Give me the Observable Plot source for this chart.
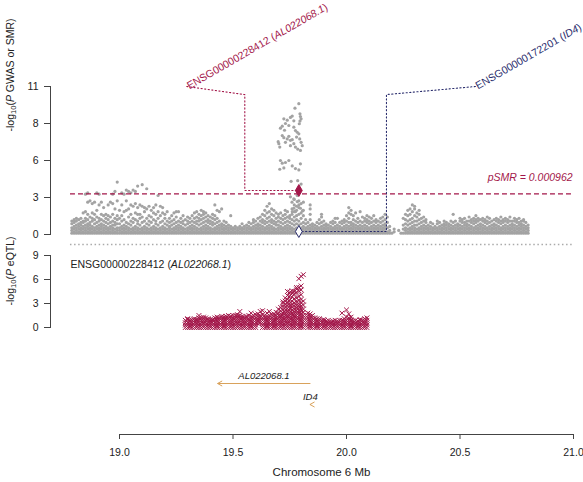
<!DOCTYPE html>
<html><head><meta charset="utf-8">
<script src="https://cdn.jsdelivr.net/npm/d3@7"></script>
<script src="https://cdn.jsdelivr.net/npm/@observablehq/plot@0.6"></script>
<style>
html,body{margin:0;padding:0;background:#fff}
#chart{position:relative;width:583px;height:482px;overflow:hidden;font-family:"Liberation Sans",Arial,Helvetica,sans-serif}
#chart svg{position:absolute;left:0}
</style></head><body><div id="chart"></div>
<script>
// ---------------- data ----------------
const xTicksMb = [19.0, 19.5, 20.0, 20.5, 21.0];
const plotSpanMb = [18.784, 20.996];
const gwasTicks = [0, 2.75, 5.5, 8.25, 11];
const gwasTickLabels = ["0", "3", "6", "8", "11"];
const eqtlTicks = [0, 3, 6, 9];
const eqtlTickLabels = ["0", "3", "6", "9"];
const smrThresholdP = 3.02;
const smrThresholdText = "pSMR = 0.000962";

const probeIds = ["ENSG00000228412", "ENSG00000172201"];
const probeGenes = ["AL022068.1", "ID4"];
const probeMb = [19.79, 19.79];
const probeSmrP = [3.27, 0.22];
const probeLabelMb = [19.296, 20.568];
const probeElbowMb = [19.552, 20.176];
const probeLabelP = 11.0;
const probeElbowP = 10.4;

const geneNames = ["AL022068.1", "ID4"];
const geneStartMb = [19.432, 19.839];
const geneEndMb = [19.841, 19.842];

const chromosomeLabel = "Chromosome 6 Mb";
const gwasAxisTitle = "-log10(P GWAS or SMR)";
const eqtlAxisTitle = "-log10(P eQTL)";

// GWAS -log10(P): one bin per 0.01 Mb starting at 18.79, values separated by spaces
const gwasStartMb = 18.79;
const binMb = 0.01;
const gwasBins = [
".1 .3 .5 .8 1.0",
".1 .2 .4 .6 .9 1.1|.1 .3 .5 .7 1.0 1.2|.1 .2 .4 .6 .8 1.1|.1 .3 .5 .7 .9 1.2|.1 .2 .4 .6 .9 1.0 1.6|.1 .3 .5 .7 1.0 1.2 1.7 3.0|.1 .2 .4 .6 .8 1.1 1.5 2.4 3.1|.1 .3 .5 .7 .9 1.3 2.5|.1 .2 .4 .6 1.0 1.2 1.6 2.3|.1 .3 .5 .8 1.1 1.5 2.4",
".1 .2 .4 .6 .9 1.3 1.8 3.1|.1 .3 .5 .7 1.0 1.2 2.2 3.0|.1 .2 .4 .6 .8 1.1 1.5 2.4|.1 .3 .5 .7 1.0 1.4 2.0|.1 .2 .4 .6 .9 1.2 1.5|.1 .3 .5 .8 1.1 1.4 2.2|.1 .2 .4 .6 .9 1.3 2.4|.1 .3 .5 .7 1.0 1.5 2.3 3.0|.1 .2 .4 .7 .9 1.2 1.9 3.2|.1 .3 .5 .8 1.1 1.4 2.5 3.9",
".1 .3 .5 .8 1.2 1.8|.1 .2 .4 .6 1.0 1.4 2.2 3.1|.1 .3 .5 .7 1.1 1.7 3.0|.1 .2 .4 .6 .9 1.8 2.5 3.3|.1 .3 .5 .8 1.3 1.9 3.2|.1 .2 .4 .7 1.0 1.5 2.2 3.1|.1 .3 .5 .9 1.2 2.1 3.3|.1 .2 .4 .6 1.1 1.6 2.3 3.2|.1 .3 .5 .8 1.0 1.5 2.0 3.6|.1 .2 .4 .7 1.2 1.5 2.2",
".1 .3 .5 .9 1.3 2.1 3.7|.1 .2 .4 .6 1.0 1.7 2.0|.1 .3 .5 .8 1.2 1.9 3.4|.1 .2 .4 .7 1.0 1.4 2.1|.1 .3 .5 .9 1.3 1.8|.1 .2 .4 .6 1.1 1.6 2.0|.1 .3 .5 .8 1.0 1.5 2.2|.1 .2 .4 .7 1.2 1.7 2.9|.1 .3 .5 .9 1.4 2.1|.1 .2 .4 .6 1.0 1.6 2.0",
".1 .3 .5 .8 1.2 1.5|.1 .2 .4 .7 1.0 1.7|.1 .3 .5 .6 .9 1.2|.1 .2 .4 .7 1.0 1.4|.1 .3 .5 .8 1.1 1.6|.1 .2 .4 .6 .9 1.3 1.7|.1 .3 .5 .7 1.0 1.7|.1 .2 .4 .6 .9 1.2|.1 .3 .5 .8 1.0 1.4|.1 .2 .4 .7 1.1",
".1 .3 .5 .8 1.0 1.3|.1 .2 .4 .6 .9 1.2|.1 .3 .5 .7 1.0 1.4|.1 .2 .4 .6 .9 1.2 1.6|.1 .3 .5 .8 1.0 1.3 1.7|.1 .2 .4 .7 1.0 1.2 1.5|.1 .3 .5 .8 1.1 1.4 1.8|.1 .2 .4 .6 .9 1.2 1.5 1.7|.1 .3 .5 .7 1.0 1.3 1.6|.1 .2 .4 .6 .9 1.1 1.4",
".1 .3 .5 .8 1.0 1.3|.1 .2 .4 .7 .9 1.2 1.5|.1 .3 .5 .8 1.1 1.4 2.2|.1 .2 .4 .6 .9 1.2 1.8|.1 .3 .5 .7 1.0 1.7|.1 .2 .4 .6 .8 1.9|.1 .3 .5 .7 1.0|.1 .2 .4 .6 .9|.1 .3 .5 .7|.1 .2 .4 .6 1.4",
".1 .3 .5|.1 .2 .4 .6|.1 .3 .5|.1 .2 .4 .6|.1 .3 .5 .8|.1 .2 .4 .6|.1 .3 .5 .7|.1 .2 .4 .6 .9|.1 .3 .5 .8|.1 .2 .4 .6 .9 1.1",
".1 .3 .5 .7 1.0|.1 .2 .4 .6 .8 1.2|.1 .3 .5 .7 1.0 1.3|.1 .2 .4 .6 .9 1.1 1.5|.1 .3 .5 .8 1.0 1.4 1.8|.1 .2 .4 .6 .9 1.2 1.6 2.1|.1 .3 .5 .7 1.0 1.3 1.7 2.3|.1 .2 .4 .6 .9 1.1 1.5 1.9|.1 .3 .5 .8 1.0 1.4 1.8|.1 .2 .4 .7 .9 1.2 1.6",
".1 .3 .5 .7 1.0 1.3 1.5|.1 .2 .4 .6 .9 1.2 1.6|.1 .3 .5 .8 1.1 1.4|.1 .2 .4 .6 .9 1.2 1.5 1.8|.1 .3 .5 .7 1.0 1.3 1.7|.1 .2 .4 .6 .9 1.2 1.4|.1 .3 .5 .8 1.1 1.5 1.9 2.4|.1 .2 .4 .7 1.0 1.3 1.7 2.2 2.6|.1 .3 .5 .8 1.1 1.4 1.8 2.1|.1 .2 .4 .7 1.0 1.5 2.0 2.5",
".1 .3 .5 .8 1.2 1.6 2.3|.1 .2 .4 .6 .9 1.4 1.8 2.4|.1 .3 .5 .8 1.1|.1 .2 .4 .6 .9|.1 .3 .5 .7 1.1 1.5 1.9 2.2|.1 .2 .4 .6 .8|.1 .3 .5 .7|.1 .2 .4 .6 .9|.1 .3 .5 .8 1.1|.1 .2 .4 .6 .9 1.3 1.5",
".1 .3 .5 .7 1.0|.1 .2 .4 .6 .8|.1 .3 .5 .7|.1 .2 .4 .6 .9|.1 .3 .5 .8 1.0|.1 .2 .4 .6 .9 1.2|.1 .3 .5 .7 1.2|.1 .2 .4 .6 .9|.1 .3 .5 .8 1.0|.1 .2 .4 .6 .9 1.1",
".1 .3 .5 .7 1.0 1.4|.1 .2 .4 .6 .9 1.2 1.6 2.0|.1 .3 .5 .7 .9 1.5 1.8|.1 .2 .4 .6 .8 1.1 1.4|.1 .3 .5 .7 1.0 1.6|.1 .2 .4 .6 .9 1.2|.1 .3 .5 .7 1.0 1.7|.1 .2 .4 .6 .9 1.3|.1 .3 .5 .7 1.0 1.2|.1 .2 .4 .6 .9 1.1 1.4",
".1 .3 .5 .8 1.0 1.3|.1 .2 .4 .6 .9 1.2|.1 .3 .5 .7 1.0 1.4|.1 .2 .4 .6 .9 1.1|.1 .3 .5 .7 1.0|.1 .2 .4 .6 .9 1.2|.1 .3 .5 .7 1.0 1.3|.1 .2 .4 .6 .8 1.1 1.5|.1 .2 .5 .9 1.3|.1 .3 .6",
".1|.2 .4||.3|.1|.1 .4 .7 1.2|.1 .3 .5 .8 1.1 1.5|.1 .2 .4 .7 1.0 1.4 1.8|.1 .3 .5 .8 1.1 1.5 1.9|.1 .2 .4 .6 .9 1.2 1.7 2.2",
".1 .3 .5 .7 1.0 1.4 1.9 2.1|.1 .2 .4 .7 1.0 1.3 1.6|.1 .3 .5 .8 1.1 1.5 1.8|.1 .2 .4 .6 .9 1.2|.1 .3 .5 .7 1.0 1.3|.1 .2 .4 .6 .9 1.1|.1 .3 .5 .7|.1 .2 .4 .6 .9|.1 .3 .5 .8|.1 .2 .4 .6",
".1 .3 .5 .8 1.0|.1 .2 .4 .6 .9|.1 .3 .5 .7|.1 .2 .4 .6 .8 1.0|.1 .3 .5 .7 .9|.1 .2 .4 .6 .8|.1 .3 .5 .7 1.0|.1 .2 .4 .6 .9 1.5|.1 .3 .5 .7 1.0|.1 .2 .4 .6 .8",
".1 .3 .5 .7 1.0 1.2|.1 .2 .4 .6 .9 1.1|.1 .3 .5 .7 .9 1.2|.1 .2 .4 .6 .8 1.0|.1 .3 .5 .7 1.0 1.3|.1 .2 .4 .6 .9 1.1|.1 .3 .5 .8 1.0 1.2|.1 .2 .4 .6 .9 1.1 1.4|.1 .3 .5 .7 1.0 1.2|.1 .2 .4 .6 .8 1.1",
".1 .3 .5 .7 1.0 1.2|.1 .2 .4 .6 .9 1.1|.1 .3 .5 .8 1.0 1.3|.1 .2 .4 .6 .9 1.2|.1 .3 .5 .7 1.0|.1 .2 .4 .6 .8 1.1|.1 .3 .5 .7 1.0 1.2|.1 .2 .4 .6 .9 1.1|.1 .3 .5 .8 1.0 1.3|.1 .2 .4 .6 .9 1.1",
".1 .3 .5 .7 1.0 1.2|.1 .2 .4 .6 .9 1.1|.1 .3 .5 .7 1.0 1.3|.1 .2 .4 .6 .8 1.0|.1 .3 .5 .7 1.0 1.2|.1 .2 .4 .6 .9 1.1|.1 .3 .5 .7 .9 1.2|.1 .2 .4 .6 .8 1.0|.1 .3 .5 .7 1.0 1.1|.1 .2 .4 .6 .9|.1 .3 .5 .7"
].join("|");

// GWAS peak SNPs (Mb, -log10 P)
const gwasPeakMb = [19.790,19.773,19.795,19.797,19.800,19.795,19.792,19.724,19.739,19.753,19.761,19.768,19.731,19.717,19.746,19.709,19.727,19.768,19.775,19.783,19.790,19.780,19.794,19.800,19.805,19.717,19.724,19.739,19.746,19.753,19.761,19.731,19.768,19.775,19.785,19.797,19.753,19.702,19.706,19.699,19.709,19.717,19.731,19.746,19.761,19.775,19.790,19.797,19.724,19.706,19.756,19.785,19.800,19.753,19.768,19.783,19.790,19.797,19.806,19.768,19.775,19.761,19.783];
const gwasPeakP  = [9.72,9.39,8.97,8.77,8.60,8.43,8.23,8.6,8.5,8.7,8.8,8.45,8.25,8.05,8.1,7.9,7.75,7.98,7.73,7.6,7.48,7.24,7.1,6.85,6.6,7.35,7.2,7.1,7.3,7.0,7.05,6.85,6.75,6.5,6.35,6.25,6.6,6.75,6.5,6.9,5.5,5.3,5.35,5.5,5.1,4.9,4.8,5.25,4.95,4.85,3.95,4.0,3.75,2.8,2.65,2.45,2.2,1.95,1.75,1.95,1.7,1.7,2.9];

// eQTL -log10(P) for ENSG00000228412: one bin per 0.01 Mb starting at 19.29
const eqtlStartMb = 19.29;
const eqtlBins = [
"0 .3 .6 .9|0 .3 .6 1.0 1.1|0 .2 .5 .8 1.0|0 .3 .6 .9|0 .3 .6 .9 1.1|0 .2 .5 .8 1.0|0 .3 .6 .9 1.2 1.5|0 .3 .6 .9 1.2|0 .2 .5 .8 1.1 1.3|0 .3 .6 .9 1.2|0 .3 .6 .9 1.1",
"0 .2 .5 .8 1.0|0 .3 .6 .9 1.0|0 .3 .6 .9 1.2|0 .2 .5 .8 1.1 1.3|0 .3 .6 .9 1.2|0 .3 .6 .9 1.2 1.4|0 .2 .5 .8 1.1 1.3|0 .3 .6 .9 1.2 1.4|0 .3 .6 .9 1.2 1.5|0 .2 .5 .8 1.1 1.4",
"0 .3 .6 .9 1.2 1.5|0 .3 .6 .9 1.2 1.5|0 .2 .5 .8 1.1 1.4 1.6|0 .3 .6 .9 1.2 1.5 2.0|0 .3 .6 .9 1.2 1.4|0 .2 .5 .8 1.1 1.3|0 .3 .6 .9 1.2 1.4|0 .3 .6 .9 1.1 1.5|0 .2 .5 .8 1.1 1.4 1.8|0 .3 .6 .9 1.2 1.5",
"0 .3 .6 .9 1.2 1.6|.5 .8 1.1 1.4 1.7|.6 .9 1.2 1.5 2.0|0 .3 .6 .9 1.2 1.6 2.1|0 .3 .6 .9 1.2 1.5|0 .2 .5 .8 1.1 1.4 1.8|0 .3 .6 .9 1.2 1.5 2.0|0 .3 .6 .9 1.2 1.6|0 .2 .5 .8 1.1 1.4 1.7|0 .3 .6 .9 1.2 1.5 1.9",
"0 .3 .6 .9 1.2 1.5 1.8 2.3|0 .2 .5 .8 1.1 1.4 1.7 2.1 2.5|0 .3 .6 .9 1.2 1.5 1.8 2.2 2.6 3.0 3.2|0 .3 .6 .9 1.2 1.5 1.8 2.1 2.5 2.9 3.3 3.7|0 .2 .5 .8 1.1 1.4 1.7 2.0 2.4 2.8 3.1 3.5 4.0 4.5|0 .3 .6 .9 1.2 1.5 1.8 2.1 2.4 2.7 3.0 3.4 3.9 4.4|0 .3 .6 .9 1.2 1.5 1.8 2.2 2.6 2.9 3.3 3.8 4.3 4.6|0 .2 .5 .8 1.1 1.4 1.7 2.0 2.3 2.7 3.1 3.6 4.2 4.5|0 .3 .6 .9 1.2 1.5 1.8 2.1 2.5 2.8 3.2 3.7 4.4 4.8 5.0|0 .3 .6 .9 1.2 1.5 1.8 2.1 2.4 2.7 3.0 3.4 3.9 4.6 5.0 6.1",
"0 .2 .5 .8 1.1 1.4 1.7 2.0 2.3 2.7 3.1 3.5 4.1 4.7 5.2 6.4|0 .3 .6 .9 1.2 1.5 1.9 2.3 2.8 3.3 6.6||0 .3 .6 .9 1.2 1.5 1.8|0 .2 .5 .8 1.1 1.4 1.7|0 .3 .6 .9 1.2 1.5|0 .3 .6 .9 1.2|0 .2 .5 .8 1.1|0 .3 .6 .9 1.1|0 .3 .6 .9",
"0 .2 .5 .8 1.0|0 .3 .6 .8|0 .3 .6 .9|0 .2 .5 .7|0 .3 .6 .8|0 .3 .6 .9|0 .2 .5 .8|0 .3 .6 .9|0 .3 .6 .9 1.8|0 .2 .5 .8 1.1",
"0 .3 .6 .9 1.3 2.2|0 .3 .6 .9 1.2 1.7|0 .2 .5 .8 1.0 1.3|0 .3 .6 .8|0 .3 .6 .9|0 .2 .5 .8|0 .3 .6 .9 1.0|0 .3 .6 .9|0 .2 .5 .8 1.1|0 .3 .6 .9 1.2"
].join("|");

// ---------------- helpers ----------------
function unbin(str, start) {
  const out = [];
  str.split("|").forEach((s, i) => {
    const x = Math.round((start + i * binMb) * 1000) / 1000;
    s.trim().split(/\s+/).filter(Boolean).forEach(v => out.push({x, y: +v}));
  });
  return out;
}
const gwas = unbin(gwasBins, gwasStartMb).concat(gwasPeakMb.map((x, i) => ({x, y: gwasPeakP[i]})));
const eqtl = unbin(eqtlBins, eqtlStartMb);

const CRIMSON = "#A3174A", NAVY = "#2B2E6E", GREY = "#A3A3A3", TAN = "#D9A25B", INK = "#222", AXIS = "#444";
const probeColors = [CRIMSON, NAVY];
const FONT = '"Liberation Sans", Arial, Helvetica, sans-serif';
const style = {fontFamily: FONT, fontSize: "10.5px", background: "transparent", overflow: "visible", color: INK};
const xScale = {domain: [19, 21], range: [119, 573], axis: null};

function enrich(svg) {
  d3.select(svg).selectAll("text").each(function () {
    const el = d3.select(this), t = this.textContent;
    let m;
    if ((m = t.match(/^-log10\(P (.+)\)$/))) {
      el.text(null);
      el.append("tspan").text("-log");
      el.append("tspan").attr("font-size", "0.72em").attr("dy", "0.3em").text("10");
      el.append("tspan").attr("dy", "-0.216em").text("(");
      el.append("tspan").attr("font-style", "italic").text("P");
      el.append("tspan").text(" " + m[1] + ")");
    } else if ((m = t.match(/^(ENSG\d+ \()(.+)(\))$/))) {
      el.text(null);
      el.append("tspan").text(m[1]);
      el.append("tspan").attr("font-style", "italic").text(m[2]);
      el.append("tspan").text(m[3]);
    }
  });
  return svg;
}
const chevronLeft = {
  draw(ctx, size) {
    const s = Math.sqrt(size);
    ctx.moveTo(s, -0.55 * s); ctx.lineTo(0, 0); ctx.lineTo(s, 0.55 * s);
  }
};

// ---------------- panel 1: GWAS / SMR ----------------
const probeMarks = probeIds.flatMap((id, i) => {
  const c = probeColors[i];
  const path = [
    {x: probeLabelMb[i], y: probeLabelP},
    {x: probeElbowMb[i], y: probeElbowP},
    {x: probeElbowMb[i], y: probeSmrP[i]},
    {x: probeMb[i], y: probeSmrP[i]}
  ];
  return [
    Plot.line(path, {x: "x", y: "y", stroke: c, strokeWidth: 1.1, strokeDasharray: "1.2,2.4"}),
    Plot.dot([path[3]], {x: "x", y: "y", symbol: "diamond", r: 3.6, fill: i === 0 ? c : "white", stroke: c, strokeWidth: 1}),
    Plot.text([id + " (" + probeGenes[i] + ")"], {x: probeLabelMb[i], y: probeLabelP, text: d => d, rotate: -30,
      textAnchor: "start", lineAnchor: "middle", dx: 1, fill: c, fontSize: 10.5})
  ];
});

const p1 = Plot.plot({
  width: 583, height: 246,
  marginTop: 86, marginBottom: 12, marginLeft: 50, marginRight: 10,
  x: xScale,
  y: {domain: [0, 11], axis: null},
  style,
  marks: [
    Plot.ruleY([-0.74], {x1: plotSpanMb[0], x2: plotSpanMb[1], stroke: "#AAAAAA", strokeWidth: 1.6, strokeDasharray: "1.5,2.6"}),
    Plot.dot(gwas, {x: "x", y: "y", r: 1.6, fill: GREY}),
    Plot.ruleY([smrThresholdP], {x1: plotSpanMb[0], x2: plotSpanMb[1], stroke: CRIMSON, strokeWidth: 1.1, strokeDasharray: "5,3"}),
    Plot.text([smrThresholdText], {x: plotSpanMb[1], y: smrThresholdP, text: d => d, textAnchor: "end", dy: -16,
      fill: CRIMSON, fontStyle: "italic", fontSize: 10.5}),
    ...probeMarks,
    Plot.frame({anchor: "left", stroke: AXIS}),
    Plot.axisY({ticks: gwasTicks, tickFormat: d => gwasTickLabels[gwasTicks.indexOf(d)], tickSize: 6, tickPadding: 6,
      label: null, stroke: AXIS, fill: INK, fontSize: 10.5}),
    Plot.text([gwasAxisTitle], {frameAnchor: "left", rotate: -90, dx: -40, dy: -29, fill: INK, fontSize: 10.5})
  ]
});
p1.style.top = "0px";

// ---------------- panel 2: eQTL ----------------
const p2 = Plot.plot({
  width: 583, height: 94,
  marginTop: 9, marginBottom: 13, marginLeft: 50, marginRight: 10,
  x: xScale,
  y: {domain: [0, 9], axis: null},
  style,
  marks: [
    Plot.dot(eqtl, {x: "x", y: "y", symbol: "times", r: 2.3, stroke: CRIMSON, strokeWidth: 1}),
    Plot.text([probeIds[0] + " (" + probeGenes[0] + ")"], {x: plotSpanMb[0], y: 7.9, text: d => d, textAnchor: "start", fill: INK, fontSize: 10.5}),
    Plot.frame({anchor: "left", stroke: AXIS}),
    Plot.axisY({ticks: eqtlTicks, tickFormat: d => eqtlTickLabels[eqtlTicks.indexOf(d)], tickSize: 6, tickPadding: 6,
      label: null, stroke: AXIS, fill: INK, fontSize: 10.5}),
    Plot.text([eqtlAxisTitle], {frameAnchor: "left", rotate: -90, dx: -40, dy: 14, fill: INK, fontSize: 10.5})
  ]
});
p2.style.top = "246px";

// ---------------- panel 3: genes + x axis ----------------
const genes = geneNames.map((g, i) => ({name: g, start: geneStartMb[i], end: geneEndMb[i], mid: (geneStartMb[i] + geneEndMb[i]) / 2}));
const p3 = Plot.plot({
  width: 583, height: 142,
  marginTop: 0, marginBottom: 48, marginLeft: 119, marginRight: 10,
  x: {domain: [19, 21], axis: null},
  y: {type: "point", domain: geneNames, range: [32, 75], axis: null},
  style,
  marks: [
    Plot.link(genes, {x1: "start", x2: "end", y1: "name", y2: "name", stroke: TAN, strokeWidth: 1}),
    Plot.dot(genes, {x: "start", y: "name", symbol: chevronLeft, r: 2.6, fill: "none", stroke: TAN, strokeWidth: 1}),
    Plot.text(genes, {x: "mid", y: "name", text: "name", dy: -8, fontStyle: "italic", fontSize: 9.5, fill: INK}),
    Plot.frame({anchor: "bottom", stroke: AXIS}),
    Plot.axisX({ticks: xTicksMb, tickFormat: d => d.toFixed(1), tickSize: 5, tickPadding: 9, label: null,
      stroke: AXIS, fill: INK, fontSize: 10.5}),
    Plot.text([chromosomeLabel], {frameAnchor: "bottom", dy: 41, dx: -25, fill: INK, fontSize: 11.5})
  ]
});
p3.style.top = "340px";

const root = document.getElementById("chart");
[p1, p2, p3].forEach(p => root.appendChild(enrich(p)));
</script></body></html>
